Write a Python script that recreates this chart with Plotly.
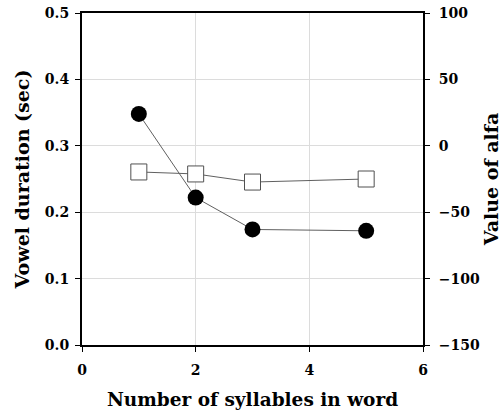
import plotly.graph_objects as go

syllables = [1, 2, 3, 5]
vowel_duration = [0.348, 0.222, 0.174, 0.172]
alfa = [-19.7, -21.2, -27.3, -25.0]

x_ticks = [0, 2, 4, 6]
y_ticks = [0.0, 0.1, 0.2, 0.3, 0.4, 0.5]
y_tick_labels = ["0.0", "0.1", "0.2", "0.3", "0.4", "0.5"]
y2_ticks = [-150, -100, -50, 0, 50, 100]

FONT = "DejaVu Serif"
TICK = dict(family=FONT, size=14, weight="bold")

fig = go.Figure()
fig.add_trace(go.Scatter(
    x=syllables, y=alfa, yaxis="y2", mode="lines+markers",
    line=dict(color="#606060", width=1),
    marker=dict(symbol="square", size=16, color="white",
                line=dict(color="#505050", width=1)),
    showlegend=False))
fig.add_trace(go.Scatter(
    x=syllables, y=vowel_duration, mode="lines+markers",
    line=dict(color="#606060", width=1),
    marker=dict(symbol="circle", size=16, color="black",
                line=dict(color="black", width=0)),
    showlegend=False))

fig.update_layout(
    width=502, height=412,
    margin=dict(l=82, r=79, t=13, b=67),
    paper_bgcolor="white", plot_bgcolor="white",
    font=dict(family=FONT, color="black", size=12),
    xaxis=dict(range=[0, 6], tickvals=x_ticks, showgrid=True, automargin=False,
               gridcolor="#dcdcdc", gridwidth=1, zeroline=False,
               showline=True, linecolor="black", linewidth=2, mirror=True,
               ticks="outside", ticklen=5, tickcolor="black",
               tickfont=TICK, ticklabelstandoff=6, ticklabeloverflow="allow",
               title=dict(text="<b>Number of syllables in word</b>",
                          font=dict(family=FONT, size=18.5), standoff=16)),
    yaxis=dict(range=[0, 0.5], tickvals=y_ticks, ticktext=y_tick_labels,
               automargin=False, ticklabeloverflow="allow",
               showgrid=True, gridcolor="#dcdcdc", gridwidth=1, zeroline=False,
               showline=True, linecolor="black", linewidth=2,
               ticks="outside", ticklen=5, tickcolor="black",
               tickfont=TICK, ticklabelstandoff=3,
               title=dict(text="<b>Vowel duration (sec)</b>",
                          font=dict(family=FONT, size=19), standoff=10)),
    yaxis2=dict(range=[-150, 100], tickvals=y2_ticks, overlaying="y",
                automargin=False, ticklabeloverflow="allow",
                side="right", showgrid=False, zeroline=False,
                showline=True, linecolor="black", linewidth=2,
                ticks="outside", ticklen=5, tickcolor="black",
                tickfont=TICK, ticklabelstandoff=6,
                title=dict(text="<b>Value of alfa</b>",
                           font=dict(family=FONT, size=19), standoff=6)),
)

fig.write_html("out.html",
               config={"displayModeBar": False},
               post_script="document.body.style.margin='0';document.body.style.padding='0';")
